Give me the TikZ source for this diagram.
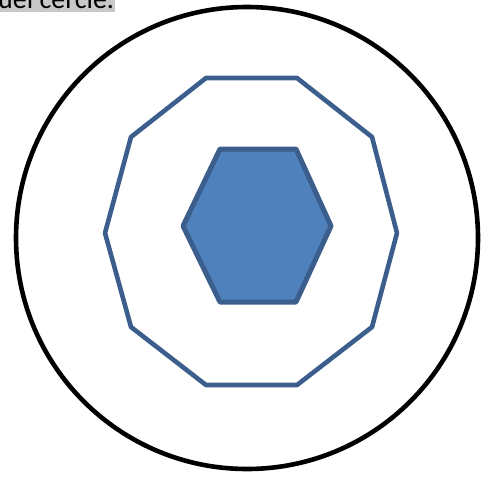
\documentclass[tikz,border=0pt]{standalone}
\usepackage{fontspec}
\setmainfont{Carlito}
\usepackage{tikz}
\usetikzlibrary{positioning}

\definecolor{polyedge}{HTML}{3B5E8C}
\definecolor{polyfill}{HTML}{4F81BD}
\definecolor{capbg}{HTML}{C8C8C8}

\begin{document}
\begin{tikzpicture}[x=1pt, y=-1pt,
    ring/.style={draw=black, line width=4.6pt},
    deca/.style={draw=polyedge, line width=4.6pt, line join=round},
    hexa/.style={draw=polyedge, fill=polyfill, line width=5pt, line join=round},
    caption/.style={fill=capbg, inner xsep=1pt, inner ysep=0pt, font=\fontsize{28}{30}\selectfont, anchor=base west}
  ]
    \useasboundingbox (0,0) rectangle (486,476);
    \clip (0,0) rectangle (486,476);
    % caption cut off at the top
    \node[caption, text depth=3pt] (cap) at (-3,9) {uel cercle.};
    % outer circle
    \draw[ring] (247,238) circle (231);
    % decagon
    \draw[deca] (206,78) -- (297,78) -- (372,137) -- (397,233) -- (372,327)
      -- (297,385) -- (206,385) -- (131,327) -- (105,233) -- (131,137) -- cycle;
    % hexagon
    \draw[hexa] (220,149) -- (296,149) -- (331,226) -- (296,302)
      -- (220,302) -- (183,226) -- cycle;
\end{tikzpicture}
\end{document}
